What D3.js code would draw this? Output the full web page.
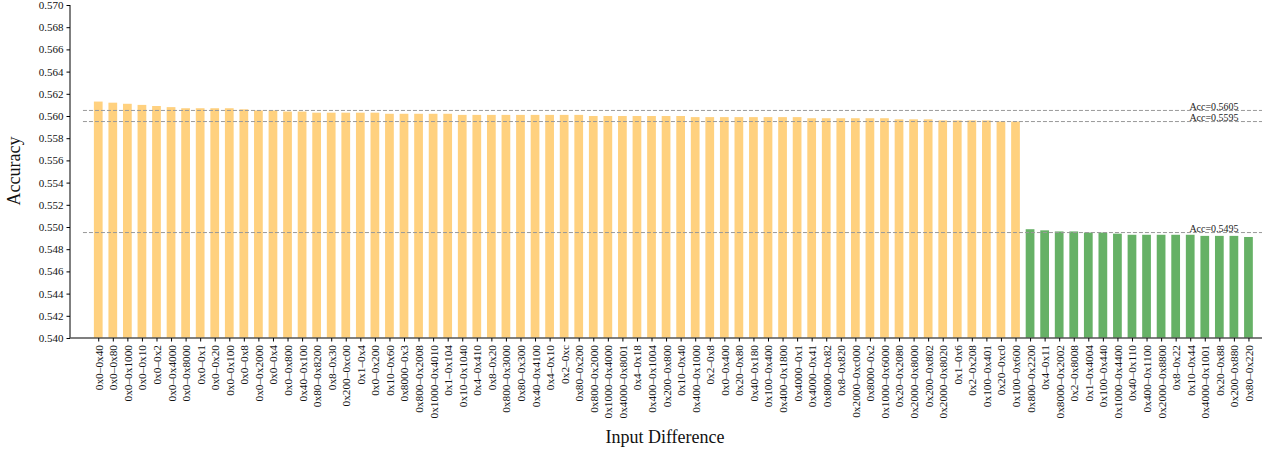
<!DOCTYPE html>
<html>
<head>
<meta charset="utf-8">
<script src="https://cdn.jsdelivr.net/npm/d3@7"></script>
<style>
  body { margin: 0; background: #fff; }
  text { font-family: "Liberation Serif", "Times New Roman", serif; }
</style>
</head>
<body>
<svg id="chart" width="1271" height="450"></svg>
<script>
const categories = [
  "0x0–0x40","0x0–0x80","0x0–0x1000","0x0–0x10","0x0–0x2","0x0–0x4000","0x0–0x8000","0x0–0x1",
  "0x0–0x20","0x0–0x100","0x0–0x8","0x0–0x2000","0x0–0x4","0x0–0x800","0x40–0x100","0x80–0x8200",
  "0x8–0x30","0x200–0xc00","0x1–0x4","0x0–0x200","0x10–0x60","0x8000–0x3","0x800–0x2008","0x1000–0x4010",
  "0x1–0x104","0x10–0x1040","0x4–0x410","0x8–0x20","0x800–0x3000","0x80–0x300","0x40–0x4100","0x4–0x10",
  "0x2–0xc","0x80–0x200","0x800–0x2000","0x1000–0x4000","0x4000–0x8001","0x4–0x18","0x400–0x1004","0x200–0x800",
  "0x10–0x40","0x400–0x1000","0x2–0x8","0x0–0x400","0x20–0x80","0x40–0x180","0x100–0x400","0x400–0x1800",
  "0x4000–0x1","0x4000–0x41","0x8000–0x82","0x8–0x820","0x2000–0xc000","0x8000–0x2","0x1000–0x6000","0x20–0x2080",
  "0x2000–0x8000","0x200–0x802","0x2000–0x8020","0x1–0x6","0x2–0x208","0x100–0x401","0x20–0xc0","0x100–0x600",
  "0x800–0x2200","0x4–0x11","0x8000–0x2002","0x2–0x8008","0x1–0x4004","0x100–0x440","0x1000–0x4400","0x40–0x110",
  "0x400–0x1100","0x2000–0x8800","0x8–0x22","0x10–0x44","0x4000–0x1001","0x20–0x88","0x200–0x880","0x80–0x220"
];
const accuracy = [
  0.5613,0.5612,0.5611,0.5610,0.5609,0.5608,0.5607,0.5607,
  0.5607,0.5607,0.5606,0.5605,0.5605,0.5604,0.5604,0.5603,
  0.5603,0.5603,0.5603,0.5603,0.5602,0.5602,0.5602,0.5602,
  0.5602,0.5601,0.5601,0.5601,0.5601,0.5601,0.5601,0.5601,
  0.5601,0.5601,0.5600,0.5600,0.5600,0.5600,0.5600,0.5600,
  0.5600,0.5599,0.5599,0.5599,0.5599,0.5599,0.5599,0.5599,
  0.5599,0.5598,0.5598,0.5598,0.5598,0.5598,0.5598,0.5597,
  0.5597,0.5597,0.5596,0.5596,0.5596,0.5596,0.5595,0.5595,
  0.5498,0.5497,0.5496,0.5496,0.5495,0.5495,0.5494,0.5493,
  0.5493,0.5493,0.5493,0.5493,0.5492,0.5492,0.5492,0.5491
];
const groups = [
  "a","a","a","a","a","a","a","a","a","a","a","a","a","a","a","a",
  "a","a","a","a","a","a","a","a","a","a","a","a","a","a","a","a",
  "a","a","a","a","a","a","a","a","a","a","a","a","a","a","a","a",
  "a","a","a","a","a","a","a","a","a","a","a","a","a","a","a","a",
  "b","b","b","b","b","b","b","b","b","b","b","b","b","b","b","b"
];
const thresholds = [0.5605, 0.5595, 0.5495];
const thresholdLabels = ["Acc=0.5605", "Acc=0.5595", "Acc=0.5495"];
const yTicks = d3.range(0, 16).map(i => 0.540 + i * 0.002);
const xTitle = "Input Difference";
const yTitle = "Accuracy";

const svg = d3.select("#chart");
const colors = { a: "#FFD17F", b: "#66B166" };

const plotLeft = 70, plotRight = 1262, plotTop = 5, plotBottom = 338;
const x = d3.scaleLinear().domain([-1.94, 79.93]).range([plotLeft, plotRight]);
const y = d3.scaleLinear().domain([0.540, 0.570]).range([plotBottom, plotTop]);
const barW = 0.6;

// bars
svg.append("g").selectAll("rect")
  .data(accuracy)
  .join("rect")
  .attr("x", (d, i) => x(i - barW / 2))
  .attr("width", x(barW) - x(0))
  .attr("y", d => y(d))
  .attr("height", d => y(0.540) - y(d))
  .attr("fill", (d, i) => colors[groups[i]]);

// threshold lines
const th = svg.append("g");
thresholds.forEach((t, k) => {
  th.append("line")
    .attr("x1", x(-1.05)).attr("x2", plotRight)
    .attr("y1", y(t)).attr("y2", y(t))
    .attr("stroke", "#999").attr("stroke-width", 1)
    .attr("stroke-dasharray", "4,2");
  th.append("text")
    .attr("x", 1214).attr("y", y(t) - 0.5)
    .attr("text-anchor", "middle")
    .attr("font-size", 10).attr("fill", "#222")
    .text(thresholdLabels[k]);
});

// y axis
const yAxis = svg.append("g")
  .attr("transform", `translate(${plotLeft},0)`)
  .call(d3.axisLeft(y).tickValues(yTicks).tickFormat(d3.format(".3f")).tickSize(3.5).tickPadding(3));
yAxis.select(".domain").attr("stroke", "#000").attr("d", `M0,${plotBottom}V${plotTop}`);
yAxis.selectAll("text").attr("font-size", 11).attr("fill", "#111").style("font-family", "Liberation Serif, serif");

// x axis
const xAxis = svg.append("g")
  .attr("transform", `translate(0,${plotBottom})`)
  .call(d3.axisBottom(x).tickValues(d3.range(categories.length)).tickFormat(i => categories[i]).tickSize(3.5).tickPadding(3));
xAxis.select(".domain").attr("stroke", "#555").attr("stroke-width", 1.5).attr("d", `M${plotLeft},0H${plotRight}`);
xAxis.selectAll("text")
  .attr("font-size", 11.3).attr("fill", "#111").style("font-family", "Liberation Serif, serif")
  .attr("transform", "rotate(-90)")
  .attr("text-anchor", "end")
  .attr("x", -7).attr("y", 0).attr("dy", "0.35em");

// titles
svg.append("text")
  .attr("transform", "translate(20,171) rotate(-90)")
  .attr("text-anchor", "middle").attr("font-size", 18).attr("fill", "#111")
  .text(yTitle);
svg.append("text")
  .attr("x", 665).attr("y", 443)
  .attr("text-anchor", "middle").attr("font-size", 18).attr("fill", "#111")
  .text(xTitle);
</script>
</body>
</html>
